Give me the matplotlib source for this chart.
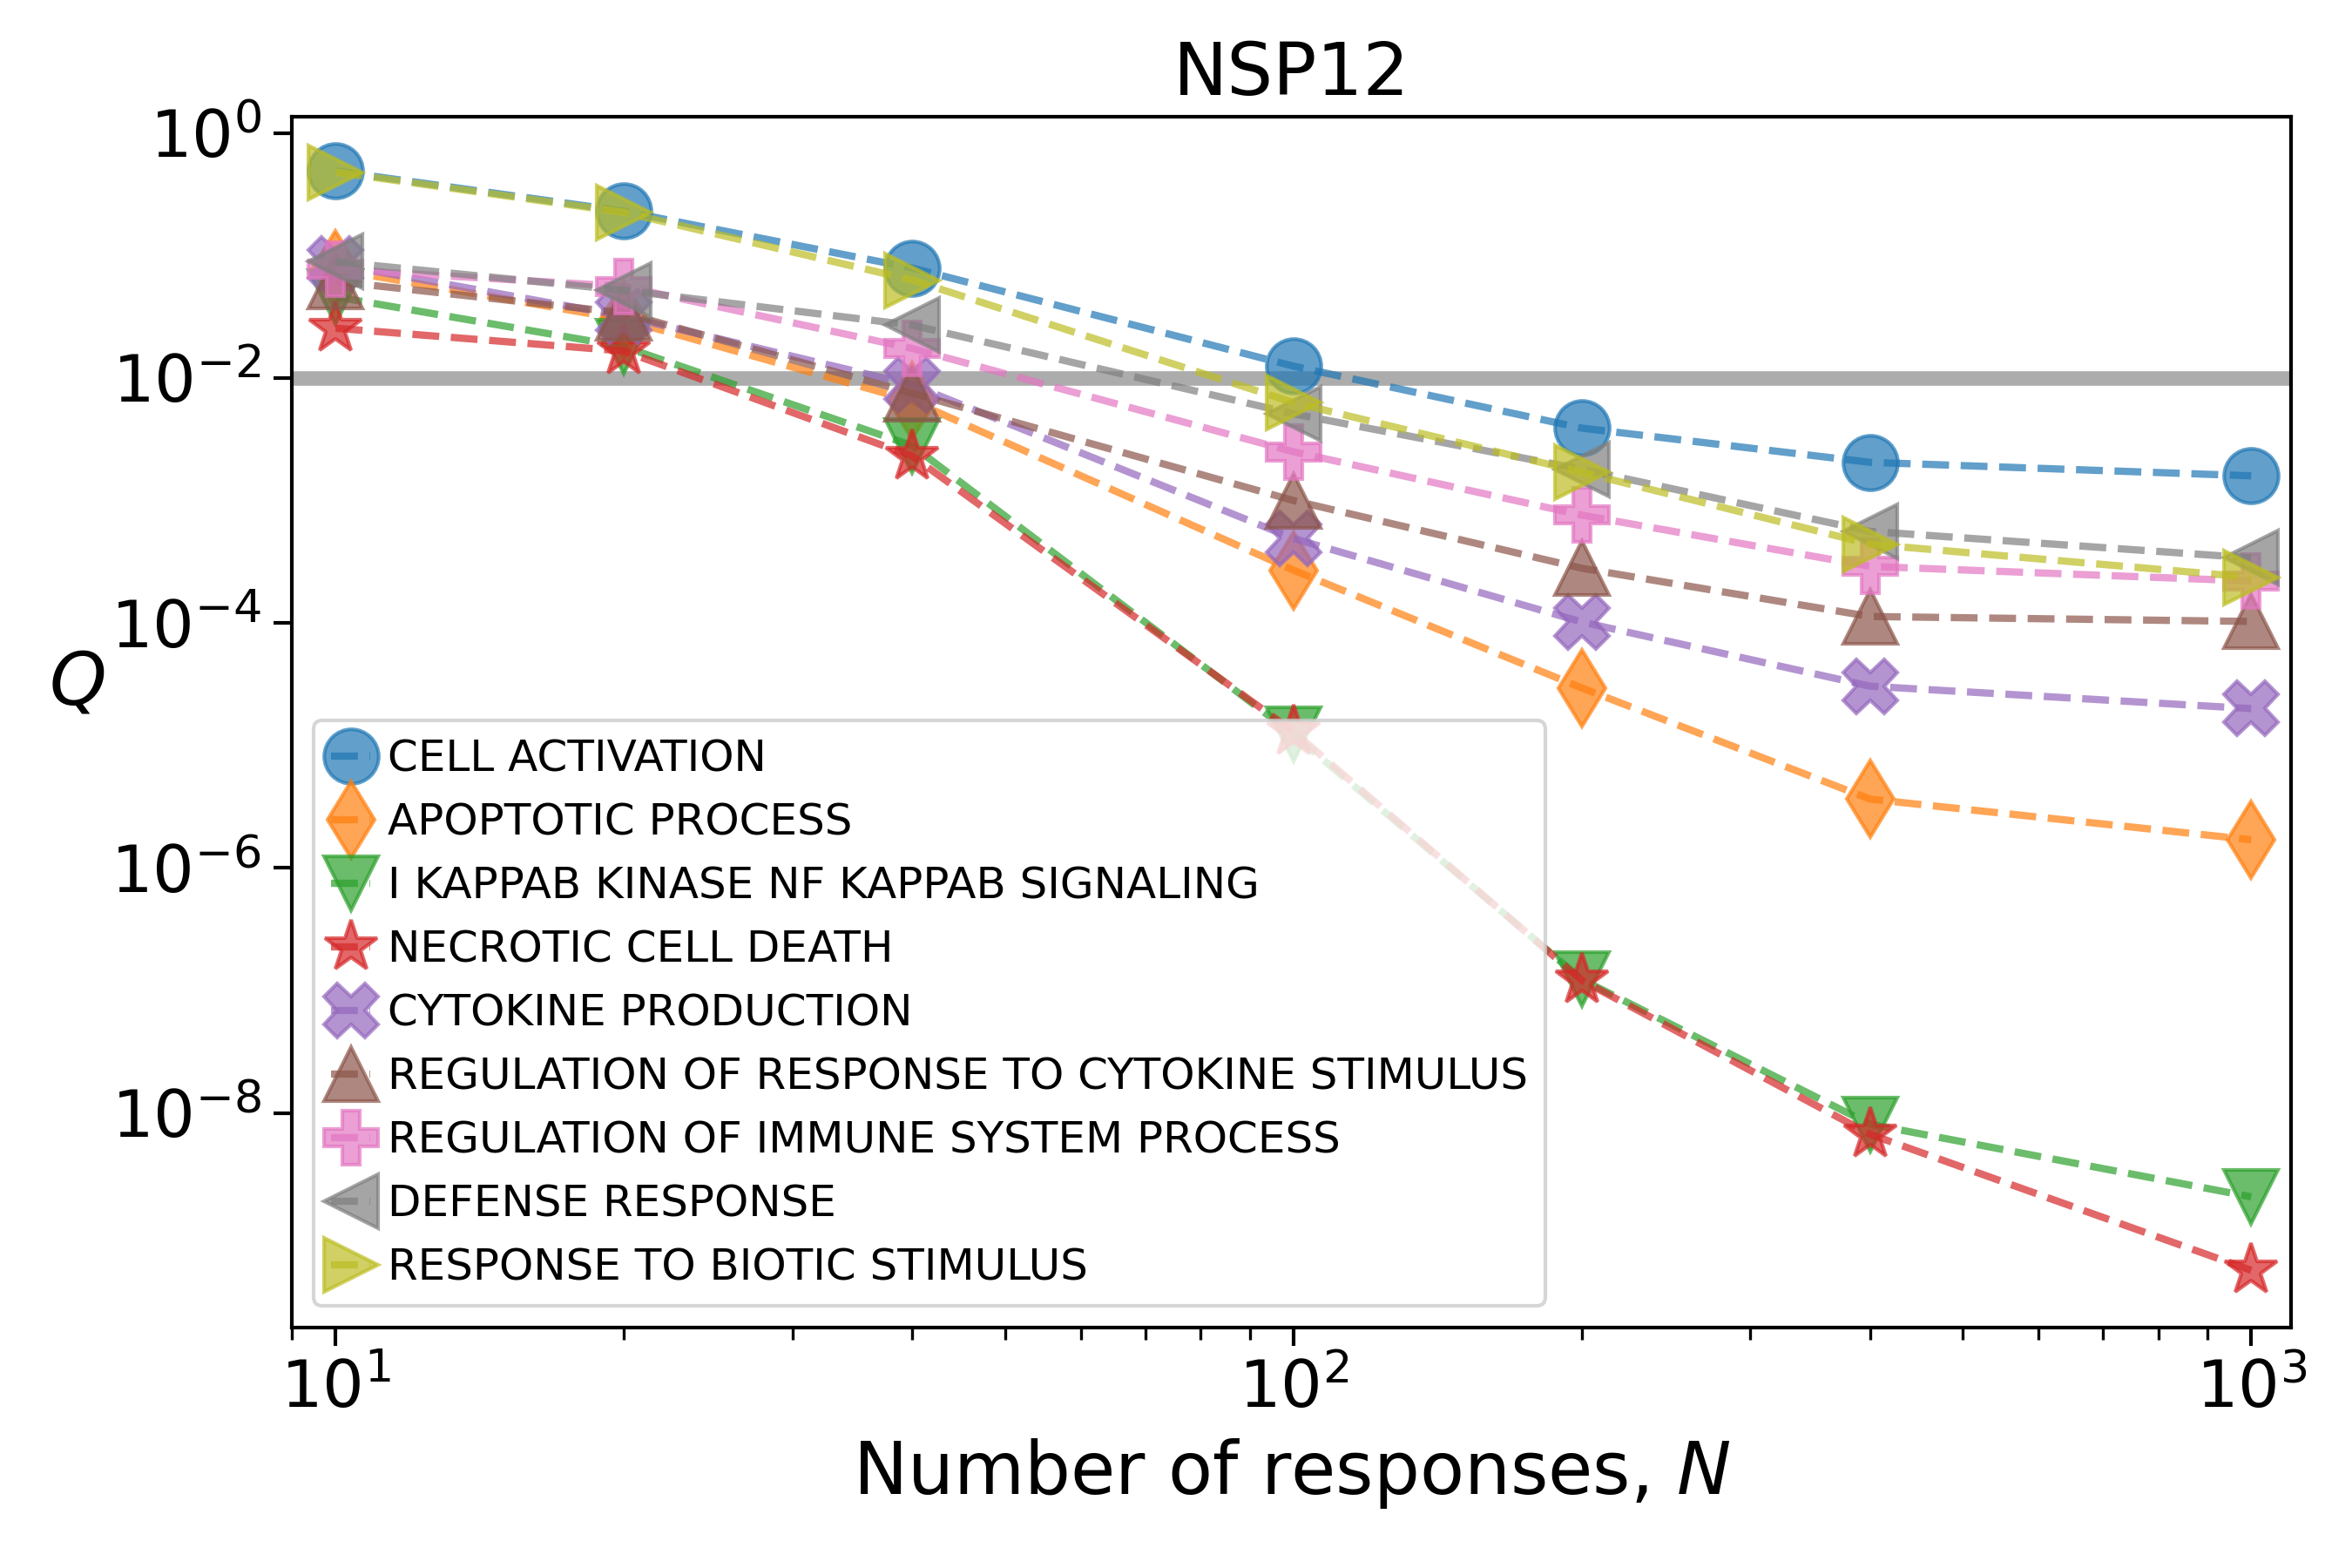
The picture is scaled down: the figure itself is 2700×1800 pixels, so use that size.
import matplotlib

matplotlib.use("Agg")
import matplotlib.pyplot as plt
from matplotlib.ticker import NullLocator

# sample sizes on the x axis
N_VALUES = [10, 20, 40, 100, 200, 400, 1000]

TERMS = [
    "CELL ACTIVATION",
    "APOPTOTIC PROCESS",
    "I KAPPAB KINASE NF KAPPAB SIGNALING",
    "NECROTIC CELL DEATH",
    "CYTOKINE PRODUCTION",
    "REGULATION OF RESPONSE TO CYTOKINE STIMULUS",
    "REGULATION OF IMMUNE SYSTEM PROCESS",
    "DEFENSE RESPONSE",
    "RESPONSE TO BIOTIC STIMULUS",
]

# Q values, one list per term
cell_activation = [0.49, 0.23, 0.079, 0.0125, 0.0039, 0.00205, 0.00159]
apoptotic_process = [0.077, 0.030, 0.0065, 0.00027, 2.95e-5, 3.65e-6, 1.7e-6]
ikappab_signaling = [0.046, 0.018, 0.0028, 1.23e-5, 1.23e-7, 8.1e-9, 2.07e-9]
necrotic_cell_death = [0.0255, 0.0166, 0.0023, 1.3e-5, 1.21e-7, 6.7e-9, 5.2e-10]
cytokine_production = [0.085, 0.032, 0.0088, 0.00049, 0.000102, 3.05e-5, 2.0e-5]
reg_cytokine_response = [0.0615, 0.034, 0.0075, 0.00100, 0.00028, 0.000113, 0.000103]
reg_immune_process = [0.077, 0.056, 0.0174, 0.0025, 0.00076, 0.00029, 0.00022]
defense_response = [0.089, 0.052, 0.027, 0.0051, 0.0018, 0.00056, 0.00034]
biotic_stimulus = [0.48, 0.225, 0.063, 0.0063, 0.0017, 0.00044, 0.000236]

SERIES = [
    cell_activation,
    apoptotic_process,
    ikappab_signaling,
    necrotic_cell_death,
    cytokine_production,
    reg_cytokine_response,
    reg_immune_process,
    defense_response,
    biotic_stimulus,
]

MARKERS = ["o", "d", "v", "*", "X", "^", "P", "<", ">"]
Y_TICKS = [1e0, 1e-2, 1e-4, 1e-6, 1e-8]
THRESHOLD = 1e-2


def main() -> None:
    fig = plt.figure(figsize=(9, 6), dpi=300)
    ax = fig.add_axes([0.1241, 0.1533, 0.8499, 0.7723])

    ax.axhline(THRESHOLD, color="gray", alpha=0.65, linewidth=4, zorder=1)

    for idx, (term, values) in enumerate(zip(TERMS, SERIES)):
        ax.plot(
            N_VALUES,
            values,
            linestyle="--",
            linewidth=2,
            marker=MARKERS[idx],
            markersize=15,
            color=f"C{idx}",
            alpha=0.7,
            label=term,
            zorder=2,
        )

    ax.set_xscale("log")
    ax.set_yscale("log")
    ax.set_xlim(9, 1100)
    ax.set_ylim(1.77e-10, 1.36)
    ax.set_yticks(Y_TICKS)
    ax.yaxis.set_minor_locator(NullLocator())

    ax.tick_params(which="major", labelsize=18, length=5, width=1.0)
    ax.tick_params(which="minor", length=3.3, width=0.8)
    for spine in ax.spines.values():
        spine.set_linewidth(1.0)

    ax.set_title("NSP12", fontsize=20)
    ax.set_xlabel("Number of responses, $N$", fontsize=20)
    ax.set_ylabel("$Q$", fontsize=20, rotation=0, ha="center", va="center")
    ax.yaxis.set_label_coords(-0.1076, 0.532)

    ax.legend(
        loc="lower left",
        fontsize=12,
        handlelength=0.9,
        handletextpad=0.4,
        labelspacing=0.5,
    )

    fig.savefig("out.png", dpi=300)
    plt.close(fig)


if __name__ == "__main__":
    main()
